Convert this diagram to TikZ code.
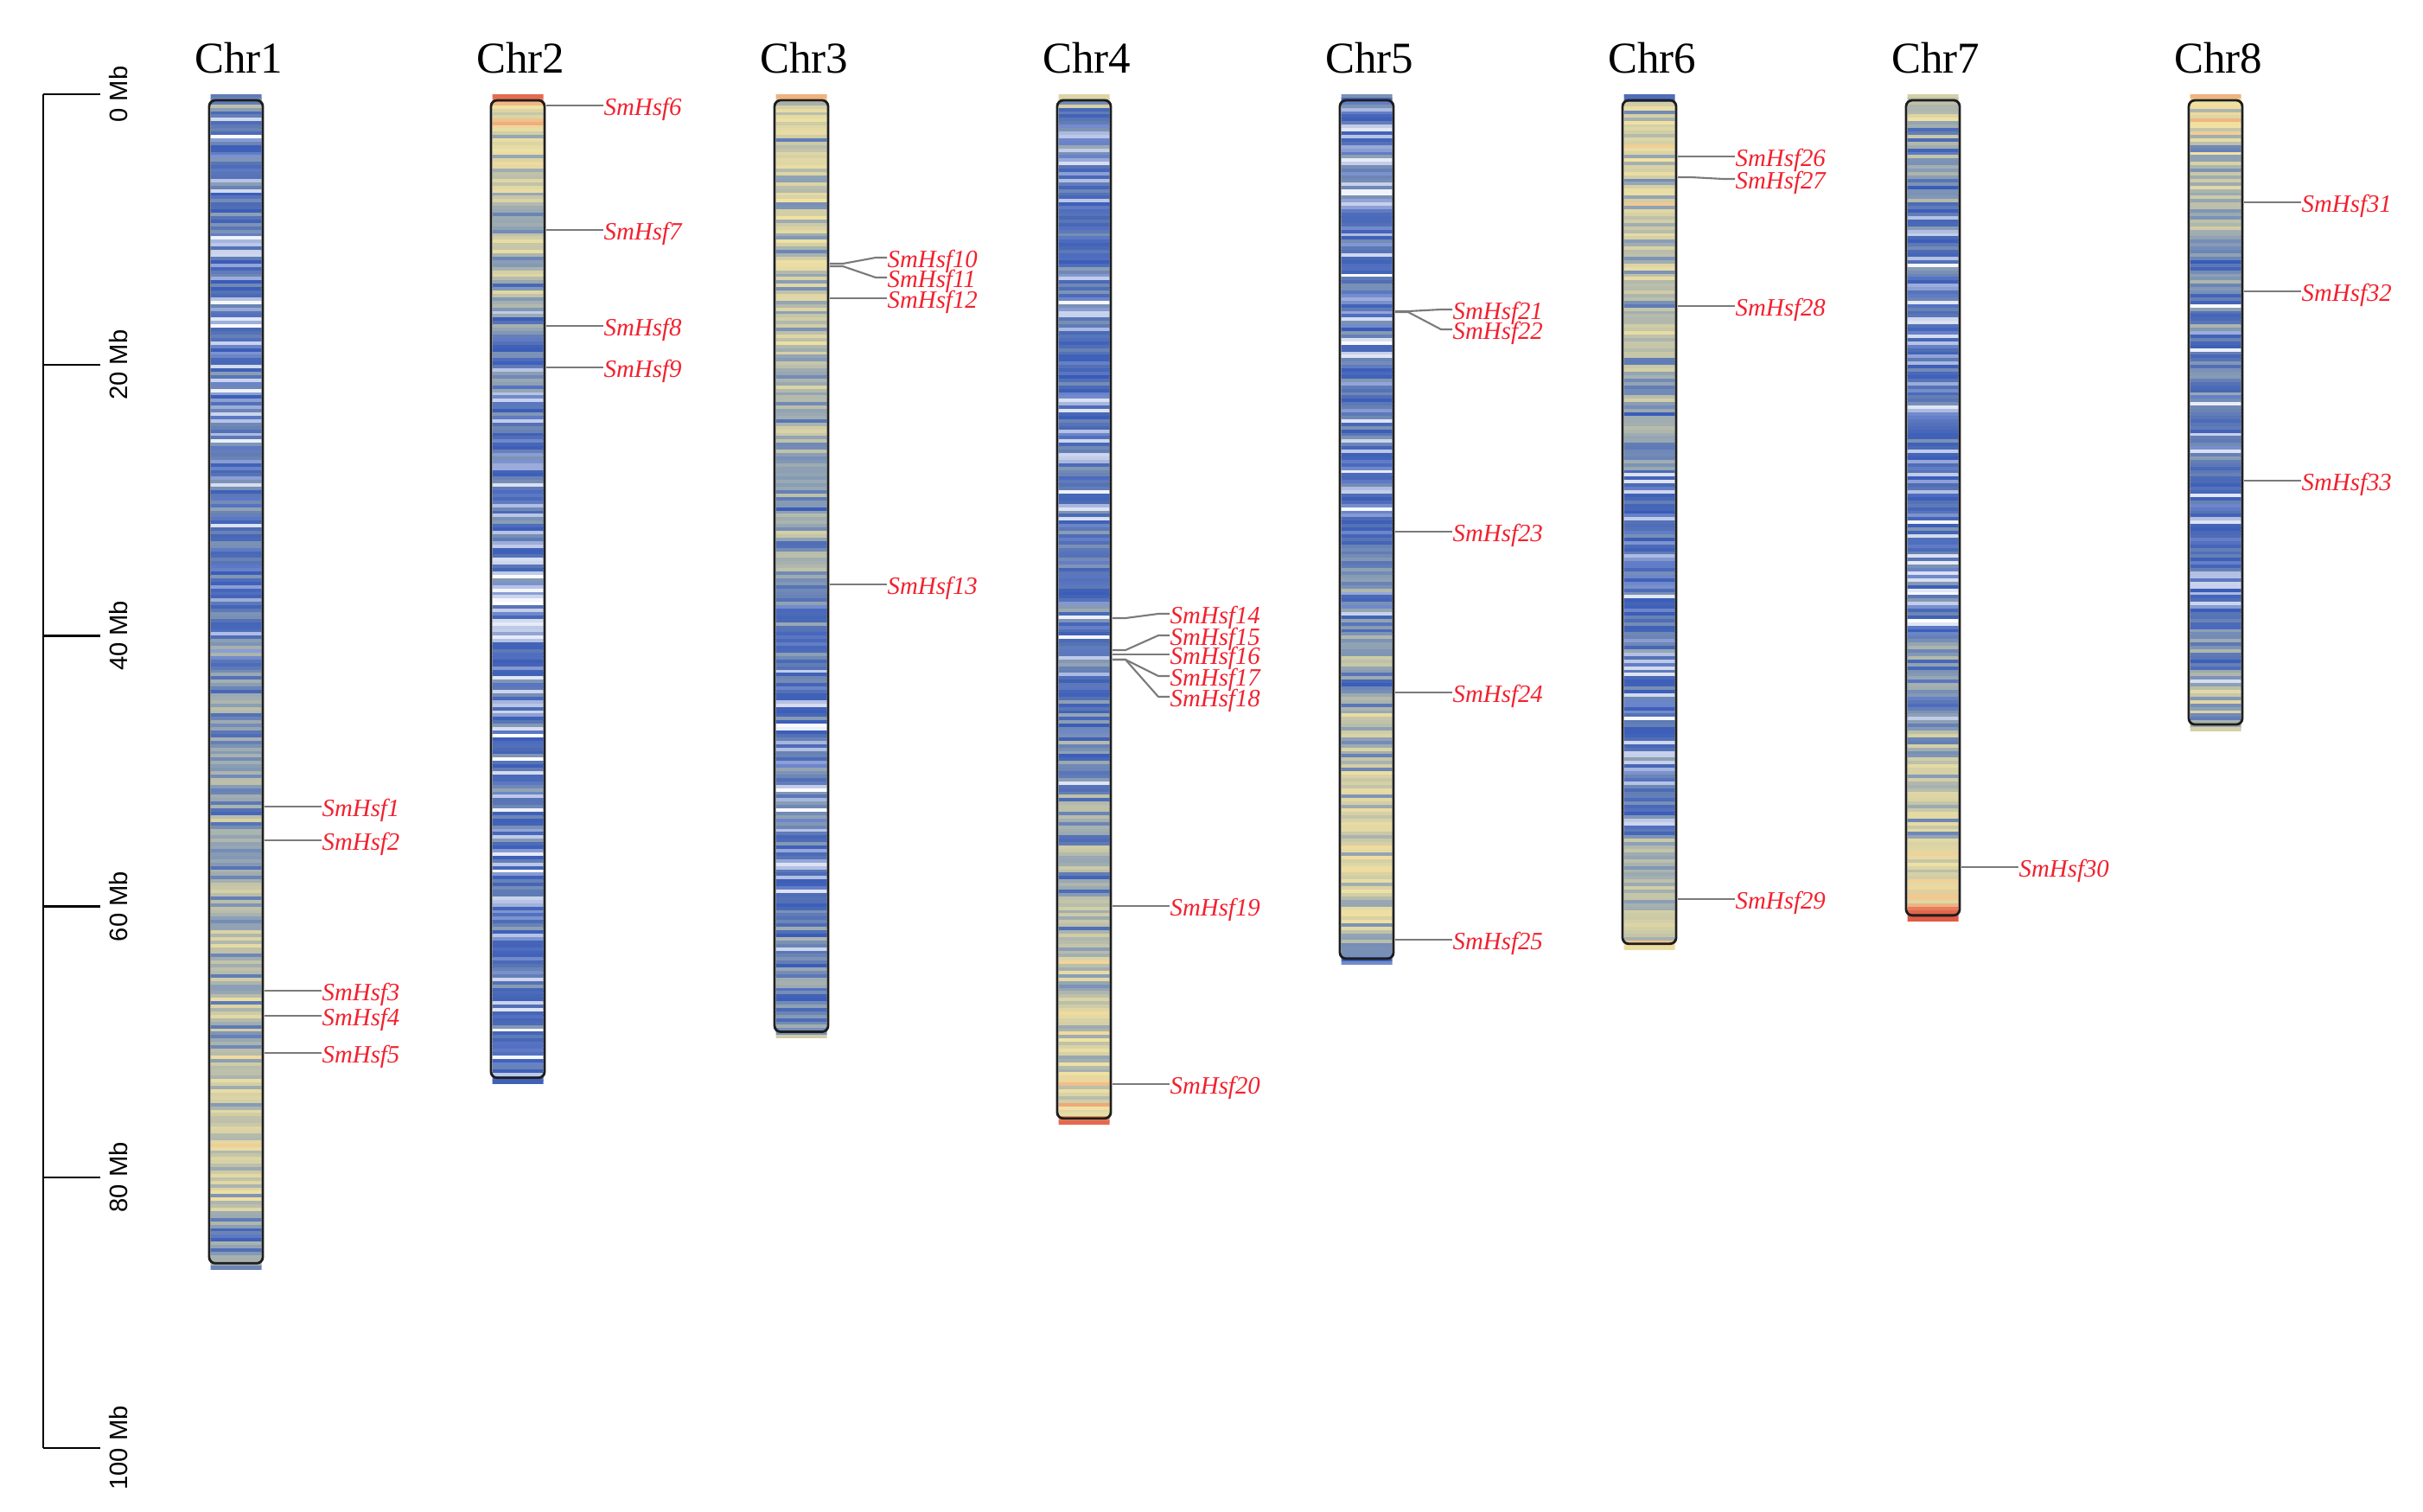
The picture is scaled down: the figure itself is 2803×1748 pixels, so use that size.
\documentclass[tikz,border=0pt]{standalone}
\usepackage{fontspec}
\setmainfont{Liberation Serif}
\setsansfont{Liberation Sans}
\usetikzlibrary{calc}
\definecolor{lev0}{HTML}{FFFFFF}
\definecolor{lev1}{HTML}{3A5CB8}
\definecolor{lev2}{HTML}{8A9EB5}
\definecolor{lev3}{HTML}{CFCCA6}
\definecolor{lev4}{HTML}{F1E2A3}
\definecolor{lev5}{HTML}{EFA97A}
\definecolor{lev6}{HTML}{E05A45}
\definecolor{genered}{HTML}{F2212E}
\definecolor{conngray}{HTML}{7A7A7A}
\definecolor{outl}{HTML}{1E1E1E}
\tikzset{
  chrtitle/.style={font=\fontsize{14.5}{17}\selectfont, anchor=base, inner sep=0pt},
  genelab/.style={font=\fontsize{8.2}{10}\selectfont\itshape, text=genered, anchor=west, inner sep=0pt, text height=0.66em, text depth=0pt},
  conn/.style={draw=conngray, line width=0.6pt},
  chromoutline/.style={draw=outl, line width=0.8pt, rounded corners=2pt},
  scaleline/.style={draw=black, line width=0.7pt},
  scalelab/.style={font=\sffamily\fontsize{8.3}{10}\selectfont, rotate=90, inner sep=0pt}
}
\newcommand\drawchrom[4]{%
  \pgfmathsetmacro\cx{#2}%
  \pgfmathsetmacro\yb{109+15.66*#3}%
  \begin{scope}
    \clip (\cx-29.5,109) rectangle (\cx+29.5,\yb);
    \foreach \a/\b/\lo/\hi/\w in {#4} {
      \pgfmathtruncatemacro\n{max(1,round((\b-\a)/0.25))}
      \pgfmathsetmacro\dd{(\b-\a)/\n}
      \foreach \i in {1,...,\n} {
        \pgfmathsetmacro\ym{\a+(\i-1)*\dd}
        \pgfmathsetmacro\base{\lo+(\hi-\lo)*(\i-0.5)/\n}
        \pgfmathsetmacro\amp{0.38+0.14*\base}
        \pgfmathsetmacro\v{\base+\amp*(rand+rand)}
        \pgfmathsetmacro\u{rnd}
        \pgfmathsetmacro\v{(\u<\w)?(0.4*rnd):\v}
        \pgfmathsetmacro\v{max(0,min(5.99,\v))}
        \pgfmathtruncatemacro\k{floor(\v)}
        \pgfmathtruncatemacro\kk{\k+1}
        \pgfmathtruncatemacro\p{round(100*(\kk-\v))}
        \fill[fill={lev\k!\p!lev\kk}] (\cx-31,{109+15.66*\ym}) rectangle (\cx+31,{109+15.66*(\ym+\dd)+0.6});
      }
    }
  \end{scope}
  \draw[chromoutline] (\cx-31,116) rectangle (\cx+31,\yb-7);
  \node[chrtitle] (#1) at (\cx+3,84) {#1};
}
\newcommand\gene[5]{%
  \coordinate (g#1) at (#2+33,#3);
  \node[genelab] (l#1) at (#2+99,#4) {#5};
  \draw[conn] (g#1) -- ++(15,0) -- ($(l#1.west)+(-13,0)$) -- (l#1.west);
}
\begin{document}
\begin{tikzpicture}[x=0.01cm,y=-0.01cm]
\useasboundingbox (0,0) rectangle (2803,1748);
\pgfmathsetseed{12}
% scale bar
\coordinate (sbtop) at (50,109);
\coordinate (sbbot) at (50,1675);
\draw[scaleline] (sbtop) -- (sbbot);
\foreach \m in {0,20,40,60,80,100} {
  \coordinate (t\m) at (50,{109+15.66*\m});
  \coordinate (te\m) at (116,{109+15.66*\m});
  \draw[scaleline] (t\m) -- (te\m);
  \node[scalelab] (s\m) at (137,{109+15.66*\m}) {\m\ Mb};
}
% chromosomes
\drawchrom{Chr1}{273}{86.8}{0/1/1.6/1.6/0, 1/10/1.2/1.2/0.08, 10/25/1.1/1.1/0.16, 25/40/1.3/1.4/0.07, 40/50/1.7/2.0/0.03, 50/60/2.1/2.4/0, 60/75/2.5/2.9/0, 75/83/2.9/3.1/0, 83/86/1.7/1.6/0.02, 86/86.8/2.5/2.5/0}
\drawchrom{Chr2}{599}{73.1}{0/0.6/5/5/0, 0.6/3/3.9/3.9/0, 3/8/3.2/3.0/0, 8/15/2.5/2.3/0, 15/22/1.8/1.6/0.03, 22/33/1.1/1.1/0.1, 33/40/1.0/1.0/0.25, 40/72/1.1/1.1/0.12, 72/73.1/1.2/1.2/0}
\drawchrom{Chr3}{927}{69.7}{0/0.6/5/5/0, 0.6/3/3.3/3.1/0, 3/15/2.8/2.7/0, 15/25/2.6/2.4/0, 25/35/2.2/2.0/0, 35/40/1.8/1.5/0.04, 40/60/1.2/1.2/0.16, 60/68/1.5/1.5/0.04, 68/69.7/2.2/2.2/0}
\drawchrom{Chr4}{1254}{76.1}{0/1/2.6/2.6/0, 1/5/1.3/1.3/0.05, 5/30/1.1/1.1/0.14, 30/45/1.2/1.3/0.07, 45/55/1.6/2.2/0.02, 55/65/2.3/2.8/0, 65/74/3.0/3.3/0, 74/75.5/3.6/3.6/0, 75.5/76.1/6/6/0}
\drawchrom{Chr5}{1581}{64.3}{0/15/1.1/1.1/0.1, 15/33/1.0/1.0/0.17, 33/45/1.5/2.2/0.02, 45/55/2.4/2.8/0, 55/62/3.0/3.1/0, 62/63.2/2.8/2.8/0, 63.2/64.3/1.1/1.1/0}
\drawchrom{Chr6}{1908}{63.2}{0/0.6/1.2/1.2/0, 0.6/1.2/5/5/0, 1.2/10/3.1/2.9/0, 10/20/2.7/2.5/0, 20/28/2.1/1.8/0.02, 28/55/1.1/1.2/0.13, 55/60/2.1/2.5/0, 60/62.5/3.1/3.1/0, 62.5/63.2/4.6/4.6/0}
\drawchrom{Chr7}{2236}{61.1}{0/2/2.8/2.8/0, 2/8/2.0/1.8/0, 8/40/1.1/1.1/0.13, 40/48/1.6/2.0/0.02, 48/55/2.3/2.7/0, 55/58/3.2/3.6/0, 58/60.3/4.3/4.6/0, 60.3/61.1/5.6/5.6/0}
\drawchrom{Chr8}{2563}{47.0}{0/0.6/5/5/0, 0.6/3/4.2/3.9/0, 3/12/2.6/2.3/0, 12/25/1.6/1.3/0.04, 25/38/1.1/1.1/0.16, 38/44/1.7/2.1/0.02, 44/47/2.7/2.9/0}
% genes
\gene{1}{273}{933}{933}{SmHsf1}
\gene{2}{273}{972}{972}{SmHsf2}
\gene{3}{273}{1146}{1146}{SmHsf3}
\gene{4}{273}{1175}{1175}{SmHsf4}
\gene{5}{273}{1218}{1218}{SmHsf5}
\gene{6}{599}{122}{122}{SmHsf6}
\gene{7}{599}{266}{266}{SmHsf7}
\gene{8}{599}{377}{377}{SmHsf8}
\gene{9}{599}{425}{425}{SmHsf9}
\gene{10}{927}{305}{298}{SmHsf10}
\gene{11}{927}{308}{321}{SmHsf11}
\gene{12}{927}{345}{345}{SmHsf12}
\gene{13}{927}{676}{676}{SmHsf13}
\gene{14}{1254}{715}{710}{SmHsf14}
\gene{15}{1254}{752}{735}{SmHsf15}
\gene{16}{1254}{757}{757}{SmHsf16}
\gene{17}{1254}{763}{782}{SmHsf17}
\gene{18}{1254}{763}{806}{SmHsf18}
\gene{19}{1254}{1048}{1048}{SmHsf19}
\gene{20}{1254}{1254}{1254}{SmHsf20}
\gene{21}{1581}{360}{358}{SmHsf21}
\gene{22}{1581}{361}{381}{SmHsf22}
\gene{23}{1581}{615}{615}{SmHsf23}
\gene{24}{1581}{801}{801}{SmHsf24}
\gene{25}{1581}{1087}{1087}{SmHsf25}
\gene{26}{1908}{181}{181}{SmHsf26}
\gene{27}{1908}{205}{207}{SmHsf27}
\gene{28}{1908}{354}{354}{SmHsf28}
\gene{29}{1908}{1040}{1040}{SmHsf29}
\gene{30}{2236}{1003}{1003}{SmHsf30}
\gene{31}{2563}{234}{234}{SmHsf31}
\gene{32}{2563}{337}{337}{SmHsf32}
\gene{33}{2563}{556}{556}{SmHsf33}
\end{tikzpicture}
\end{document}
